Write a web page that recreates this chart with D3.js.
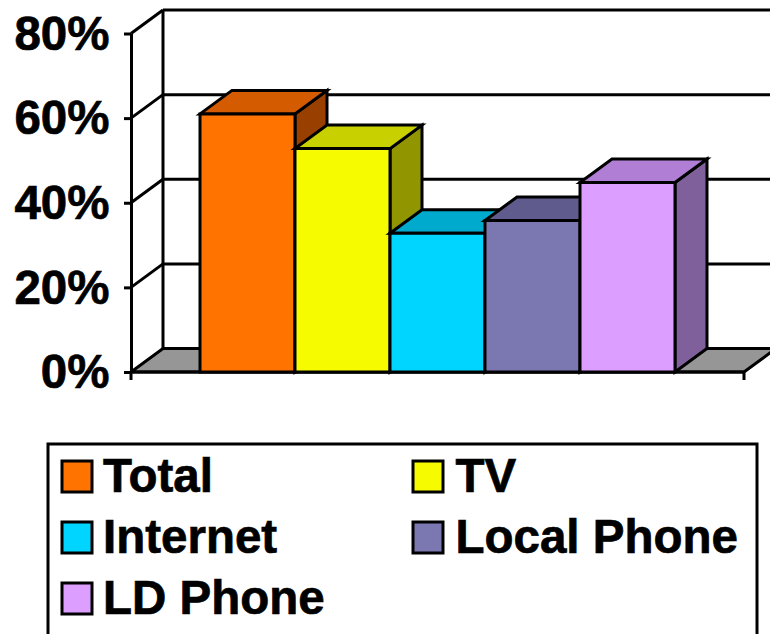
<!DOCTYPE html>
<html><head><meta charset="utf-8">
<script src="https://cdn.jsdelivr.net/npm/d3@7"></script>
<style>html,body{margin:0;padding:0;background:#fff;overflow:hidden}svg{display:block}text{font-family:"Liberation Sans",Arial,sans-serif;font-weight:bold;fill:#000;stroke:#000;stroke-width:.7px}</style>
</head><body><div id="c"></div>
<script>
const categories = ["Total","TV","Internet","Local Phone","LD Phone"];
const values = [61,52.8,32.8,35.8,44.8];
const frontColors = ["#ff7300","#f7fb00","#00d5ff","#7b77b0","#dc9fff"];
const topColors = ["#d55b00","#c9d000","#00aacc","#5f5b8c","#b07fd5"];
const sideColors = ["#994000","#919500","#007f99","#47446a","#80609a"];
const yTicks = [0,20,40,60,80];

const W=770,H=634, dx=32, dy=-23.5, sw=3;
const svg=d3.select("#c").append("svg").attr("width",W).attr("height",H);
const y=d3.scaleLinear().domain([0,80]).range([372,33.5]);
const xAxisRange=[131,744];
const x=d3.scaleBand().domain(categories).range([200,675]);
const poly=(pts,fill)=>svg.append("polygon").attr("points",pts.map(p=>p.join(",")).join(" "))
  .attr("fill",fill).attr("stroke","#000").attr("stroke-width",sw).attr("stroke-linejoin","miter");
const line=(a,b)=>svg.append("line").attr("x1",a[0]).attr("y1",a[1]).attr("x2",b[0]).attr("y2",b[1]).attr("stroke","#000").attr("stroke-width",sw);
const [L,R]=xAxisRange;

// floor
poly([[L,y(0)],[R,y(0)],[R+dx,y(0)+dy],[L+dx,y(0)+dy]],"#969696");
// wall grid
yTicks.forEach(t=>{
  if(t>0) line([L,y(t)],[L+dx,y(t)+dy]);
  line([L+dx,y(t)+dy],[R+dx,y(t)+dy]);
});
line([L+dx,y(0)+dy],[L+dx,y(80)+dy]);

// axis
const ax=svg.append("g").attr("transform",`translate(${L},0)`)
  .call(d3.axisLeft(y).tickValues(yTicks).tickFormat(d=>d+"%").tickSize(7).tickPadding(14.5).tickSizeOuter(0));
ax.selectAll("path,line").attr("stroke","#000").attr("stroke-width",sw);
ax.selectAll("text").attr("font-size",47.5).attr("font-family",'"Liberation Sans",Arial,sans-serif').attr("font-weight","bold").attr("dy","0.33em");
line([L,y(0)],[R,y(0)]);
line([L,y(0)],[L,y(0)+8]);
line([R,y(0)],[R,y(0)+8]);

// bars
categories.forEach((c,i)=>{
  const x0=x(c),x1=x0+x.bandwidth(),yT=y(values[i]),yB=y(0);
  poly([[x1,yB],[x1+dx,yB+dy],[x1+dx,yT+dy],[x1,yT]],sideColors[i]);
  poly([[x0,yT],[x1,yT],[x1+dx,yT+dy],[x0+dx,yT+dy]],topColors[i]);
  poly([[x0,yB],[x1,yB],[x1,yT],[x0,yT]],frontColors[i]);
});

// legend
svg.append("rect").attr("x",48).attr("y",444).attr("width",709).attr("height",210).attr("fill","#fff").attr("stroke","#000").attr("stroke-width",sw);
const colX=d3.scaleOrdinal().domain([0,1]).range([61,412]);
const rowY=d3.scaleLinear().domain([0,2]).range([461,583]);
categories.forEach((c,i)=>{
  const lx=colX(i%2), ly=rowY(Math.floor(i/2));
  svg.append("rect").attr("x",lx+1).attr("y",ly).attr("width",30).attr("height",31).attr("fill",frontColors[i]).attr("stroke","#000").attr("stroke-width",sw);
  svg.append("text").attr("x",lx+(i%2?43.5:42)).attr("y",ly+31).attr("font-size",47.5).text(c);
});
</script></body></html>
